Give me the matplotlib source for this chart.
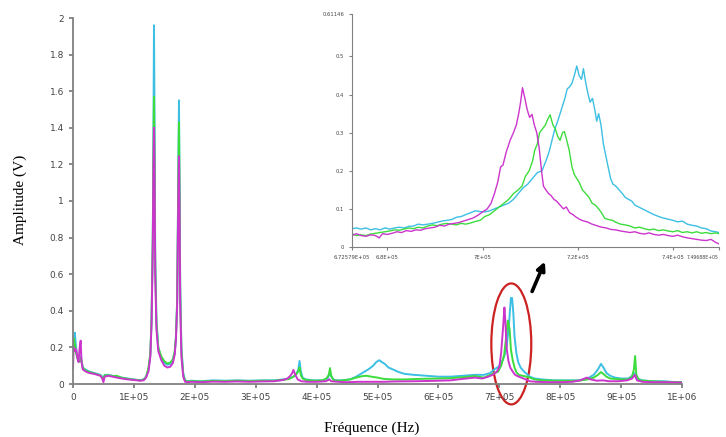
import numpy as np
import matplotlib.pyplot as plt
from matplotlib.patches import Ellipse

# main spectrum, (frequency in kHz, amplitude in V)
cyan_main = [(0, 0.19), (1, 0.24), (3, 0.28), (5, 0.2), (7, 0.15), (10, 0.13), (13, 0.15), (16, 0.09),
             (20, 0.08), (25, 0.07), (30, 0.065), (35, 0.06), (40, 0.055), (45, 0.05), (48, 0.04), (50, 0.03),
             (52, 0.05), (58, 0.05), (65, 0.045), (72, 0.04), (80, 0.035), (90, 0.03), (100, 0.025), (110, 0.02),
             (116, 0.025), (120, 0.04), (124, 0.08), (127, 0.16), (129, 0.35), (131, 0.8), (132, 1.3), (133, 1.96),
             (134, 1.4), (135, 0.7), (137, 0.35), (140, 0.2), (145, 0.14), (150, 0.115), (155, 0.105), (160, 0.11),
             (164, 0.13), (167, 0.17), (169, 0.25), (171, 0.45), (172, 0.8), (173, 1.2), (174, 1.55), (175, 1.1),
             (176, 0.55), (178, 0.2), (181, 0.06), (184, 0.02), (188, 0.015), (195, 0.018), (210, 0.015),
             (230, 0.02), (250, 0.018), (270, 0.02), (290, 0.018), (310, 0.02), (330, 0.02), (345, 0.025),
             (355, 0.03), (362, 0.04), (367, 0.055), (370, 0.08), (372, 0.126), (374, 0.07), (377, 0.035),
             (382, 0.025), (395, 0.02), (410, 0.02), (418, 0.03), (422, 0.06), (425, 0.035), (430, 0.02),
             (440, 0.02), (455, 0.025), (465, 0.04), (475, 0.06), (485, 0.08), (493, 0.1), (498, 0.12),
             (503, 0.13), (507, 0.12), (512, 0.11), (518, 0.09), (525, 0.08), (535, 0.065), (545, 0.055),
             (560, 0.05), (580, 0.045), (600, 0.04), (620, 0.04), (640, 0.045), (660, 0.05), (675, 0.05),
             (685, 0.06), (692, 0.08), (698, 0.093), (703, 0.11), (708, 0.15), (712, 0.2), (716, 0.33),
             (719, 0.47), (721, 0.47), (723, 0.39), (725, 0.26), (728, 0.17), (731, 0.12), (735, 0.09),
             (740, 0.07), (745, 0.055), (750, 0.04), (758, 0.03), (770, 0.025), (790, 0.02), (810, 0.02),
             (830, 0.02), (845, 0.03), (855, 0.05), (862, 0.08), (867, 0.11), (871, 0.09), (876, 0.06),
             (882, 0.045), (890, 0.035), (900, 0.03), (912, 0.03), (918, 0.045), (922, 0.06), (925, 0.03),
             (935, 0.02), (950, 0.015), (970, 0.015), (990, 0.01), (1000, 0.01)]

green_main = [(0, 0.16), (1, 0.25), (3, 0.22), (5, 0.17), (7, 0.14), (10, 0.12), (13, 0.14), (16, 0.09),
              (20, 0.075), (25, 0.068), (30, 0.062), (35, 0.058), (40, 0.052), (45, 0.048), (48, 0.035),
              (50, 0.025), (52, 0.048), (58, 0.047), (65, 0.043), (72, 0.045), (80, 0.034), (90, 0.028),
              (100, 0.024), (110, 0.02), (116, 0.024), (120, 0.038), (124, 0.09), (127, 0.17), (129, 0.36),
              (131, 0.8), (132, 1.25), (133, 1.57), (134, 1.2), (135, 0.65), (137, 0.33), (140, 0.2), (145, 0.15),
              (150, 0.125), (155, 0.112), (160, 0.118), (164, 0.135), (167, 0.18), (169, 0.26), (171, 0.45),
              (172, 0.8), (173, 1.15), (174, 1.43), (175, 1.05), (176, 0.5), (178, 0.18), (181, 0.05),
              (184, 0.018), (188, 0.014), (195, 0.016), (210, 0.014), (230, 0.017), (250, 0.016), (270, 0.018),
              (290, 0.016), (310, 0.018), (330, 0.018), (345, 0.022), (355, 0.028), (362, 0.04), (367, 0.055),
              (370, 0.07), (372, 0.09), (374, 0.05), (377, 0.03), (382, 0.022), (395, 0.018), (410, 0.02),
              (416, 0.03), (420, 0.05), (422, 0.087), (424, 0.045), (428, 0.02), (440, 0.018), (455, 0.025),
              (465, 0.035), (475, 0.043), (482, 0.045), (490, 0.04), (500, 0.035), (510, 0.028), (525, 0.025),
              (545, 0.025), (570, 0.028), (600, 0.03), (620, 0.032), (640, 0.037), (660, 0.043), (675, 0.035),
              (685, 0.05), (692, 0.06), (698, 0.067), (703, 0.1), (708, 0.16), (711, 0.25), (714, 0.347),
              (717, 0.3), (719, 0.19), (722, 0.13), (725, 0.09), (728, 0.065), (732, 0.05), (738, 0.045),
              (745, 0.04), (750, 0.035), (758, 0.025), (770, 0.02), (790, 0.018), (810, 0.018), (830, 0.018),
              (845, 0.025), (855, 0.035), (862, 0.05), (867, 0.065), (871, 0.055), (876, 0.04), (882, 0.03),
              (890, 0.028), (900, 0.025), (912, 0.025), (918, 0.04), (921, 0.08), (923, 0.153), (925, 0.05),
              (930, 0.02), (950, 0.015), (970, 0.012), (990, 0.01), (1000, 0.01)]

magenta_main = [(0, 0.08), (1, 0.2), (3, 0.18), (5, 0.19), (7, 0.15), (9, 0.12), (11, 0.2), (12.6, 0.237),
                (14, 0.12), (16, 0.08), (20, 0.07), (25, 0.062), (30, 0.058), (35, 0.055), (40, 0.05),
                (45, 0.045), (48, 0.03), (50, 0.01), (52, 0.04), (58, 0.045), (65, 0.04), (72, 0.035),
                (80, 0.03), (90, 0.025), (100, 0.022), (110, 0.018), (116, 0.02), (120, 0.035), (124, 0.07),
                (127, 0.15), (129, 0.33), (131, 0.75), (132, 1.15), (133, 1.4), (134, 1.1), (135, 0.6),
                (137, 0.3), (140, 0.18), (145, 0.13), (150, 0.1), (155, 0.09), (160, 0.095), (164, 0.115),
                (167, 0.16), (169, 0.24), (171, 0.42), (172, 0.75), (173, 1.05), (174, 1.245), (175, 0.95),
                (176, 0.45), (178, 0.15), (181, 0.04), (184, 0.012), (188, 0.01), (195, 0.012), (210, 0.01),
                (230, 0.013), (250, 0.012), (270, 0.014), (290, 0.012), (310, 0.014), (330, 0.015),
                (345, 0.022), (352, 0.03), (357, 0.045), (360, 0.06), (362, 0.077), (365, 0.05), (369, 0.025),
                (375, 0.015), (385, 0.012), (400, 0.012), (415, 0.015), (421, 0.025), (424, 0.015),
                (435, 0.012), (450, 0.01), (470, 0.012), (490, 0.012), (510, 0.012), (530, 0.014), (560, 0.015),
                (590, 0.017), (620, 0.02), (640, 0.028), (660, 0.035), (672, 0.03), (682, 0.04), (690, 0.052),
                (696, 0.068), (700, 0.092), (703, 0.17), (706, 0.3), (708.4, 0.418), (710, 0.34), (712, 0.2),
                (715, 0.125), (718, 0.09), (722, 0.068), (726, 0.05), (732, 0.04), (740, 0.03), (750, 0.015),
                (760, 0.012), (780, 0.01), (800, 0.01), (820, 0.012), (833, 0.02), (840, 0.03), (844, 0.035),
                (850, 0.025), (860, 0.018), (870, 0.02), (880, 0.015), (895, 0.015), (910, 0.02), (918, 0.03),
                (923, 0.05), (926, 0.02), (935, 0.012), (950, 0.01), (975, 0.01), (1000, 0.008)]

# zoom on the 7E+05 peak
cyan_zoom = [(672.6, 0.048), (673.5, 0.05), (674.5, 0.047), (675.5, 0.05), (676.5, 0.045), (677.5, 0.048),
             (678.5, 0.045), (679.5, 0.05), (680.5, 0.047), (681.5, 0.05), (682.5, 0.052), (683.5, 0.05),
             (684.5, 0.054), (685.5, 0.055), (686.5, 0.06), (687.5, 0.058), (688.5, 0.06), (689.5, 0.062),
             (690.5, 0.065), (691.5, 0.068), (692.5, 0.07), (693.5, 0.072), (694.5, 0.078), (695.5, 0.08),
             (696.5, 0.085), (697.5, 0.09), (698.5, 0.095), (699.5, 0.093), (700.5, 0.092), (701.5, 0.095),
             (702.5, 0.1), (703.5, 0.105), (704.5, 0.11), (705.5, 0.115), (706.5, 0.125), (707.5, 0.14),
             (708.5, 0.155), (709.5, 0.165), (710.5, 0.18), (711.5, 0.195), (712.5, 0.2), (713.3, 0.225),
             (714, 0.25), (714.6, 0.28), (715.2, 0.31), (715.8, 0.33), (716.3, 0.35), (716.8, 0.37),
             (717.3, 0.39), (717.8, 0.415), (718.3, 0.42), (718.8, 0.43), (719.3, 0.45), (719.8, 0.475),
             (720.3, 0.45), (720.8, 0.44), (721.2, 0.468), (721.7, 0.43), (722.2, 0.4), (722.6, 0.38),
             (723.1, 0.39), (723.6, 0.36), (724, 0.33), (724.4, 0.35), (724.9, 0.32), (725.4, 0.27),
             (725.9, 0.24), (726.4, 0.21), (726.9, 0.18), (727.4, 0.165), (728, 0.16), (728.7, 0.15),
             (729.4, 0.14), (730, 0.13), (730.7, 0.125), (731.4, 0.12), (732, 0.11), (732.8, 0.105),
             (733.6, 0.1), (734.4, 0.095), (735.2, 0.09), (736, 0.085), (737, 0.08), (738, 0.076),
             (739, 0.073), (740, 0.07), (741, 0.066), (742, 0.068), (743, 0.06), (744, 0.057), (745, 0.055),
             (746, 0.05), (747, 0.048), (748, 0.042), (749, 0.04), (749.7, 0.038)]

green_zoom = [(672.6, 0.035), (673.5, 0.03), (674.5, 0.032), (675.5, 0.03), (676.5, 0.034), (677.5, 0.036),
              (678.5, 0.038), (679.5, 0.04), (680.5, 0.042), (681.5, 0.045), (682.5, 0.044), (683.5, 0.047),
              (684.5, 0.05), (685.5, 0.048), (686.5, 0.052), (687.5, 0.05), (688.5, 0.055), (689.5, 0.058),
              (690.5, 0.056), (691.5, 0.06), (692.5, 0.062), (693.5, 0.06), (694.5, 0.058), (695.5, 0.062),
              (696.5, 0.06), (697.5, 0.063), (698.5, 0.067), (699.5, 0.07), (700.5, 0.08), (701.5, 0.085),
              (702.5, 0.095), (703.5, 0.105), (704.5, 0.115), (705.5, 0.125), (706.5, 0.14), (707.5, 0.15),
              (708.3, 0.16), (709, 0.185), (709.8, 0.2), (710.5, 0.225), (711, 0.255), (711.5, 0.27),
              (712, 0.3), (712.6, 0.31), (713.2, 0.32), (713.7, 0.335), (714.2, 0.347), (714.8, 0.32),
              (715.3, 0.31), (715.8, 0.29), (716.3, 0.28), (716.8, 0.3), (717.2, 0.303), (717.7, 0.28),
              (718.2, 0.255), (718.8, 0.21), (719.3, 0.19), (719.8, 0.18), (720.3, 0.17), (721, 0.15),
              (721.7, 0.14), (722.4, 0.13), (723, 0.115), (723.7, 0.11), (724.4, 0.1), (725, 0.09),
              (725.7, 0.075), (726.5, 0.072), (727.3, 0.07), (728, 0.065), (729, 0.06), (730, 0.058),
              (731, 0.055), (732, 0.05), (733, 0.052), (734, 0.048), (735, 0.045), (736, 0.047), (737, 0.043),
              (738, 0.045), (739, 0.042), (740, 0.04), (741, 0.043), (742, 0.038), (743, 0.04), (744, 0.037),
              (745, 0.04), (746, 0.036), (747, 0.038), (748, 0.035), (749, 0.037), (749.7, 0.035)]

magenta_zoom = [(672.6, 0.03), (673.5, 0.035), (674.5, 0.03), (675.5, 0.028), (676.5, 0.032), (677.5, 0.03),
                (678.3, 0.024), (679, 0.035), (680, 0.033), (681, 0.036), (682, 0.04), (683, 0.038),
                (684, 0.043), (685, 0.041), (686, 0.045), (687, 0.044), (688, 0.048), (689, 0.05), (690, 0.052),
                (691, 0.057), (692, 0.055), (693, 0.06), (694, 0.062), (695, 0.064), (696, 0.068), (697, 0.072),
                (698, 0.076), (699, 0.083), (700, 0.092), (701, 0.1), (701.8, 0.115), (702.5, 0.14),
                (703.2, 0.17), (703.8, 0.21), (704.3, 0.215), (705, 0.25), (705.8, 0.28), (706.5, 0.3),
                (707.1, 0.32), (707.6, 0.35), (708, 0.38), (708.4, 0.418), (708.9, 0.39), (709.4, 0.36),
                (709.9, 0.34), (710.4, 0.348), (710.9, 0.32), (711.4, 0.3), (711.9, 0.26), (712.4, 0.2),
                (712.8, 0.16), (713.3, 0.15), (713.9, 0.14), (714.4, 0.135), (715, 0.125), (715.6, 0.12),
                (716.3, 0.11), (717, 0.1), (717.6, 0.105), (718.3, 0.09), (719, 0.085), (719.7, 0.078),
                (720.5, 0.072), (721.3, 0.068), (722, 0.066), (723, 0.06), (724, 0.056), (725, 0.052),
                (726, 0.05), (727, 0.046), (728, 0.045), (729, 0.042), (730, 0.04), (731, 0.038), (732, 0.04),
                (733, 0.036), (734, 0.034), (735, 0.037), (736, 0.033), (737, 0.031), (738, 0.033), (739, 0.03),
                (740, 0.028), (741, 0.031), (742, 0.027), (743, 0.024), (744, 0.022), (745, 0.02), (746, 0.018),
                (747, 0.017), (748, 0.02), (749, 0.012), (749.7, 0.008)]

main_xticks = [0, 1e5, 2e5, 3e5, 4e5, 5e5, 6e5, 7e5, 8e5, 9e5, 1e6]
main_xlabels = ['0', '1E+05', '2E+05', '3E+05', '4E+05', '5E+05', '6E+05', '7E+05', '8E+05', '9E+05', '1E+06']
main_yticks = [0, 0.2, 0.4, 0.6, 0.8, 1, 1.2, 1.4, 1.6, 1.8, 2]
main_ylabels = ['0', '0.2', '0.4', '0.6', '0.8', '1', '1.2', '1.4', '1.6', '1.8', '2']
zoom_xticks = [672579, 680000, 700000, 720000, 740000, 749688]
zoom_xlabels = ['6.72579E+05', '6.8E+05', '7E+05', '7.2E+05', '7.4E+05', '7.49688E+05']
zoom_yticks = [0, 0.1, 0.2, 0.3, 0.4, 0.5, 0.61146]
zoom_ylabels = ['0', '0.1', '0.2', '0.3', '0.4', '0.5', '0.61146']

colors = {'cyan': '#3cbfe3', 'green': '#3ddc3d', 'magenta': '#cc35cc'}
W, H = 726, 437


def style_axes(ax, size, width):
    for s in ['top', 'right']:
        ax.spines[s].set_visible(False)
    for s in ['left', 'bottom']:
        ax.spines[s].set_color('#808080')
        ax.spines[s].set_linewidth(width)
    ax.tick_params(colors='#808080', labelcolor='#444444', labelsize=size, length=3, width=width)


fig = plt.figure(figsize=(W / 100, H / 100), dpi=100)
ax = fig.add_axes([73 / W, 1 - 384 / H, (682 - 73) / W, (384 - 18) / H])
for name, series in [('cyan', cyan_main), ('green', green_main), ('magenta', magenta_main)]:
    d = np.array(series)
    ax.plot(d[:, 0] * 1e3, d[:, 1], color=colors[name], lw=1.4)
ax.set_xlim(0, 1e6)
ax.set_ylim(0, 2)
ax.set_xticks(main_xticks, main_xlabels)
ax.set_yticks(main_yticks, main_ylabels)
style_axes(ax, 6.5, 1.3)

# red ellipse around the zoomed peak
ax.add_patch(Ellipse((7.197e5, 0.219), 0.656e5, 0.661, fill=False, ec='#cc2222', lw=1.6, clip_on=False))

# inset
axi = fig.add_axes([352 / W, 1 - 247 / H, (719 - 352) / W, (247 - 14) / H])
axi.patch.set_alpha(0)
for name, series in [('cyan', cyan_zoom), ('green', green_zoom), ('magenta', magenta_zoom)]:
    d = np.array(series)
    axi.plot(d[:, 0] * 1e3, d[:, 1], color=colors[name], lw=1.0)
axi.set_xlim(672579, 749688)
axi.set_ylim(0, 0.61146)
axi.set_xticks(zoom_xticks, zoom_xlabels)
axi.set_yticks(zoom_yticks, zoom_ylabels)
style_axes(axi, 3.8, 0.8)
axi.tick_params(length=2)
# last label would run past the figure edge
last = axi.get_xticklabels()[-1]
last.set_horizontalalignment('right')
last.set_fontsize(3.3)

ax.annotate('', xy=(546, H - 259), xycoords='figure pixels', xytext=(531, H - 294),
            textcoords='figure pixels',
            arrowprops=dict(arrowstyle='-|>', color='black', lw=2.6, mutation_scale=12))

fig.text(372 / W, 1 - 428 / H, 'Fréquence (Hz)', family='Liberation Serif', fontsize=11,
         ha='center', va='center')
fig.text(20 / W, 1 - 200 / H, 'Amplitude (V)', family='Liberation Serif', fontsize=11,
         ha='center', va='center', rotation=90)

fig.savefig('out.png', dpi=100)
